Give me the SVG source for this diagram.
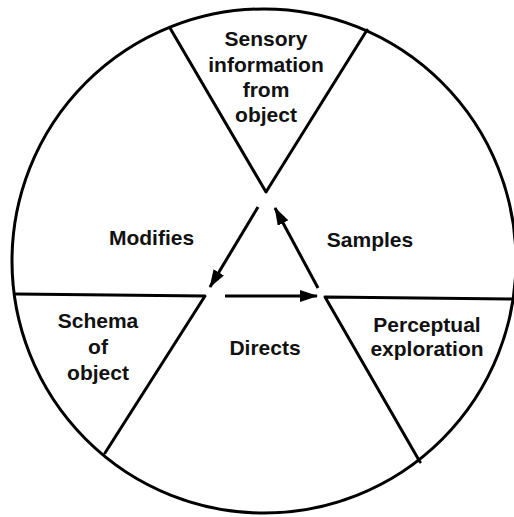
<svg xmlns="http://www.w3.org/2000/svg" width="514" height="517" viewBox="0 0 514 517">
<style>
.ln{fill:none;stroke:#000;stroke-width:3;stroke-linecap:round;stroke-linejoin:round}
.ar{fill:none;stroke:#000;stroke-width:3}
.t{font-family:"Liberation Sans",Arial,sans-serif;font-weight:bold;font-size:21px;text-anchor:middle;fill:#111}
</style>
<defs>
<marker id="ah" markerUnits="userSpaceOnUse" markerWidth="20" markerHeight="14" refX="17" refY="6" orient="auto">
<path d="M0,0 L18,6 L0,12 Z" fill="#000"/>
</marker>
</defs>
<rect width="514" height="517" fill="#fff"/>
<g id="outline">
<circle cx="264" cy="261" r="252" class="ln"/>
</g>
<g id="sensory">
<polyline class="ln" points="170,28 266,192 367,30"/>
<text class="t" x="266" y="46">Sensory</text>
<text class="t" x="266" y="71.5">information</text>
<text class="t" x="266" y="97">from</text>
<text class="t" x="266" y="122">object</text>
</g>
<g id="schema">
<polyline class="ln" points="16,294 205,296 105,453"/>
<text class="t" x="98" y="328">Schema</text>
<text class="t" x="98" y="354">of</text>
<text class="t" x="98" y="380">object</text>
</g>
<g id="perceptual">
<polyline class="ln" points="513,299 325,297 420,462"/>
<text class="t" x="427" y="332">Perceptual</text>
<text class="t" x="427" y="356">exploration</text>
</g>
<g id="connectors">
<line class="ar" x1="258" y1="207" x2="210" y2="287" marker-end="url(#ah)"/>
<line class="ar" x1="225" y1="296" x2="317" y2="296" marker-end="url(#ah)"/>
<line class="ar" x1="318" y1="288" x2="275" y2="208" marker-end="url(#ah)"/>
<text class="t" x="151.5" y="245">Modifies</text>
<text class="t" x="265" y="355">Directs</text>
<text class="t" x="370" y="247">Samples</text>
</g>
</svg>
